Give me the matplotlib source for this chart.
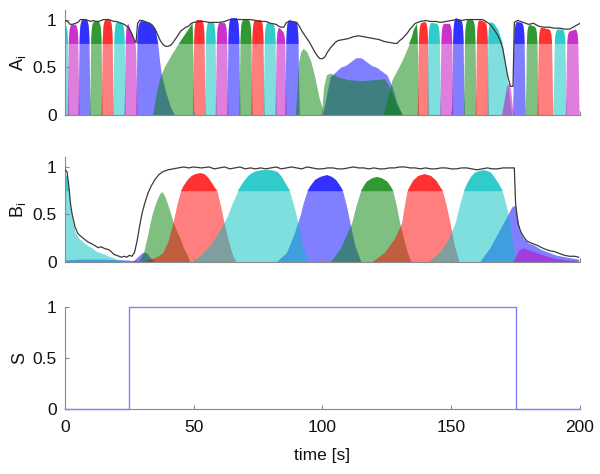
import numpy as np
import matplotlib
matplotlib.use("Agg")
import matplotlib.pyplot as plt

plt.rcParams['font.family'] = ['Liberation Sans', 'DejaVu Sans']

# ---------------- data ----------------
TIME_TICKS = [0, 50, 100, 150, 200]
Y_TICKS = [0, 0.5, 1]
Y_TICK_LABELS = ['0', '0.5', '1']
X_TICK_LABELS = ['0', '50', '100', '150', '200']

# Panel A: regular plateau states (start, end, top-left, top-right)
A_blue = [(5.5, 9.3, 1.0, 1.0), (63.3, 67.5, 1.02, 1.02), (85.8, 90.5, 1.0, 0.98),
          (150.6, 154.6, 1.02, 1.0), (174.3, 178.3, 0.98, 0.97)]
A_green = [(10, 14, 0.98, 0.98), (68, 72.2, 1.0, 1.0), (155.2, 159.2, 1.0, 1.0),
           (179.2, 183.3, 0.95, 0.93)]
A_red = [(14.5, 18.3, 1.0, 1.0), (50, 54, 1.0, 1.0), (72.6, 76.9, 1.0, 1.0),
         (137.3, 140.8, 0.97, 0.98), (159.8, 164, 1.0, 0.98), (183.8, 189, 0.92, 0.9)]
A_cyan = [(-1.5, 1.0, 0.95, 0.95), (19, 23, 0.98, 0.97), (54.6, 58.3, 0.98, 0.98),
          (77.4, 81.6, 0.97, 0.96), (141, 145.4, 0.97, 0.96), (190, 194.2, 0.9, 0.9)]
A_magenta = [(1.3, 5.0, 0.95, 0.95), (23.4, 27.5, 0.96, 0.8), (58.8, 62.8, 0.97, 0.97),
             (82, 85.4, 0.92, 0.88), (146, 150.2, 0.96, 0.96), (194.8, 199.2, 0.88, 0.9)]

# Panel A: irregular states
A_blue_slow_t = [27.5, 27.8, 28.0, 28.4, 29, 30, 33, 35, 36, 36.8, 37.5, 39, 41, 42.5]
A_blue_slow_v = [0, 0.5, 0.85, 0.94, 0.98, 0.99, 0.96, 0.9, 0.75, 0.55, 0.42, 0.25, 0.08, 0]
A_green_rise_t = [34, 35, 36, 37, 38.5, 41, 44, 46.5, 48.5, 49.3, 49.7, 50]
A_green_rise_v = [0, 0.16, 0.3, 0.4, 0.5, 0.62, 0.75, 0.85, 0.93, 0.97, 0.6, 0]
A_green_hump_t = [89.5, 90.2, 90.7, 91.5, 92.5, 94, 95.5, 97, 98.5, 99.8, 100.5]
A_green_hump_v = [0, 0.3, 0.55, 0.66, 0.7, 0.66, 0.56, 0.4, 0.2, 0.08, 0]
A_blue_dip_t = [100, 101.5, 103, 105, 107, 109, 111, 113, 115, 117, 119, 121, 123, 125, 127, 129, 131]
A_blue_dip_v = [0, 0.2, 0.4, 0.45, 0.5, 0.52, 0.56, 0.6, 0.6, 0.56, 0.52, 0.5, 0.46, 0.42, 0.3, 0.12, 0]
A_green_low_t = [99.5, 100.5, 101.5, 103, 106, 110, 115, 120, 124, 126, 128.5, 131]
A_green_low_v = [0, 0.3, 0.42, 0.44, 0.4, 0.37, 0.36, 0.37, 0.38, 0.3, 0.12, 0]
A_green_ramp_t = [123.5, 125, 127, 129, 130.7, 133.3, 134.5, 135.3, 136.5, 137.0, 137.3]
A_green_ramp_v = [0, 0.15, 0.37, 0.47, 0.56, 0.72, 0.82, 0.9, 0.96, 0.6, 0]
A_cyan_fall_t = [163.8, 164.1, 164.4, 165, 166.5, 168, 169, 170, 170.8, 171.5, 172.3, 173, 173.5]
A_cyan_fall_v = [0, 0.6, 0.9, 0.98, 0.96, 0.9, 0.82, 0.72, 0.55, 0.42, 0.25, 0.1, 0]
A_magenta_small_t = [169.5, 170.5, 171.5, 172.3, 173, 173.7, 174.2]
A_magenta_small_v = [0, 0.15, 0.3, 0.34, 0.28, 0.1, 0]

# Panel A: total (black line)
A_total_t = [0, 1, 2, 3, 4, 5, 6, 7, 8, 9, 10, 11, 12, 13, 14, 15, 16, 17, 18, 19, 20, 21, 22,
             23, 24, 25, 26, 27, 27.6, 28.2, 29, 30, 31, 32, 33, 34, 35, 36, 37, 38, 39, 40,
             41, 42, 43, 44, 45, 46, 47, 48, 49, 50, 52, 54, 56, 58, 60, 62, 64, 66, 68, 70,
             72, 74, 76, 78, 80, 82, 83, 84, 85, 86, 88, 90, 91, 92, 93, 94, 95, 96, 97, 98,
             99, 100, 101, 102, 103, 104, 105, 106, 108, 110, 112, 114, 116, 118, 120, 122,
             124, 126, 128, 129, 130, 131, 132, 133, 134, 135, 136, 137, 138, 140, 142, 144,
             146, 148, 150, 152, 154, 156, 158, 160, 162, 163, 164, 165, 166, 167, 168, 169,
             170, 171, 172, 173, 174, 174.5, 175, 176, 178, 180, 182, 184, 186, 188, 190, 192,
             194, 196, 198, 200]
A_total_v = [0.99, 0.98, 0.95, 0.95, 0.96, 0.97, 1.0, 1.0, 1.0, 0.99, 0.98, 0.99, 0.98, 0.98,
             0.99, 1.0, 1.0, 1.0, 0.99, 0.98, 0.98, 0.97, 0.96, 0.95, 0.93, 0.9, 0.85, 0.78,
             0.76, 0.96, 0.99, 0.99, 0.98, 0.97, 0.96, 0.94, 0.9, 0.84, 0.78, 0.74, 0.72, 0.72,
             0.73, 0.76, 0.8, 0.84, 0.88, 0.9, 0.92, 0.93, 0.96, 0.97, 0.98, 0.98, 0.97, 0.97,
             0.97, 0.98, 1.0, 1.0, 1.0, 1.0, 1.0, 0.99, 0.98, 0.98, 0.96, 0.95, 0.93, 0.92,
             0.92, 0.97, 0.98, 0.97, 0.93, 0.88, 0.84, 0.8, 0.76, 0.71, 0.66, 0.62, 0.59, 0.59,
             0.61, 0.66, 0.7, 0.73, 0.76, 0.78, 0.79, 0.8, 0.82, 0.83, 0.82, 0.81, 0.8, 0.79,
             0.77, 0.76, 0.75, 0.75, 0.78, 0.8, 0.83, 0.86, 0.9, 0.93, 0.96, 0.97, 0.98, 0.99,
             0.98, 0.98, 0.97, 0.98, 0.99, 1.0, 0.99, 1.0, 1.0, 1.0, 1.0, 0.99, 0.97, 0.95,
             0.92, 0.88, 0.84, 0.78, 0.7, 0.55, 0.4, 0.3, 0.3, 0.97, 0.98, 0.99, 0.97, 0.95,
             0.96, 0.93, 0.92, 0.92, 0.91, 0.91, 0.9, 0.9, 0.93, 0.96]

# Panel B states
B_blue_floor_t = [0, 5, 10, 15, 20, 25, 28, 30]
B_blue_floor_v = [0.02, 0.03, 0.03, 0.03, 0.025, 0.02, 0.01, 0]
B_blue_small_t = [26, 28, 30, 31.5, 33, 35]
B_blue_small_v = [0, 0.05, 0.1, 0.1, 0.05, 0]
B_blue_1_t = [82, 86, 89, 91.3, 92.5, 93.8, 95.3, 97, 99, 101.6, 103.5, 105, 106.6, 108, 109.4,
              110.7, 111.7, 112.6, 115]
B_blue_1_v = [0, 0.1, 0.3, 0.49, 0.62, 0.73, 0.81, 0.87, 0.9, 0.92, 0.9, 0.87, 0.81, 0.73, 0.58,
              0.41, 0.28, 0.17, 0]
B_blue_2_t = [161, 165, 168, 171, 173.5, 174.8, 175.5, 176.7, 178, 180, 182, 185, 188, 191, 195, 199.5]
B_blue_2_v = [0, 0.15, 0.3, 0.45, 0.58, 0.6, 0.5, 0.32, 0.25, 0.2, 0.18, 0.13, 0.1, 0.07, 0.05, 0.03]
B_green_1_t = [28.5, 30.5, 31.8, 32.8, 33.8, 34.8, 35.8, 36.8, 37.7, 38.6, 39.6, 40.8, 42, 43.3,
               44.7, 46, 47.4, 48.5]
B_green_1_v = [0, 0.1, 0.25, 0.38, 0.5, 0.59, 0.66, 0.72, 0.74, 0.7, 0.63, 0.53, 0.42, 0.33,
               0.25, 0.15, 0.08, 0]
B_green_2_t = [103, 107, 109, 111.3, 113, 114.6, 115.8, 117, 119, 121, 123, 125, 126.3, 127.5,
               128.8, 130, 131.5, 133, 134.5]
B_green_2_v = [0, 0.15, 0.27, 0.41, 0.59, 0.73, 0.8, 0.85, 0.885, 0.9, 0.885, 0.85, 0.8, 0.73,
               0.58, 0.41, 0.25, 0.1, 0]
B_red_1_t = [29, 33, 36, 38, 40, 42, 43.4, 44.7, 46, 47.5, 49, 50.5, 52.4, 54, 55.5, 57, 58.2,
             59.2, 60.5, 61.8, 63.5, 65, 66.5]
B_red_1_v = [0, 0.03, 0.06, 0.1, 0.22, 0.42, 0.6, 0.73, 0.81, 0.87, 0.91, 0.93, 0.94, 0.93,
             0.89, 0.83, 0.78, 0.73, 0.58, 0.41, 0.22, 0.08, 0]
B_red_2_t = [119, 124, 128, 130.7, 131.7, 132.7, 133.8, 135, 137, 139.5, 142, 144, 145.4, 146.8,
             148.2, 149.5, 151, 153]
B_red_2_v = [0, 0.1, 0.25, 0.41, 0.58, 0.73, 0.8, 0.86, 0.91, 0.93, 0.91, 0.86, 0.8, 0.73,
             0.58, 0.42, 0.2, 0]
B_cyan_0_t = [0, 0.8, 1.5, 2.2, 2.8, 3.9, 5, 6.6, 8, 9, 10.5, 11.7, 13.5, 15.5, 17, 18.3, 20, 22, 24, 26, 27]
B_cyan_0_v = [0.92, 0.9, 0.75, 0.55, 0.45, 0.32, 0.26, 0.22, 0.19, 0.17, 0.15, 0.12, 0.1, 0.08,
              0.06, 0.05, 0.03, 0.02, 0.01, 0.005, 0]
B_cyan_1_t = [49.5, 53, 57, 60, 63, 65, 66.8, 68, 69.5, 71, 72.5, 74, 76, 78.5, 81, 82.5, 84,
              85.5, 87.4, 89, 90.5, 91.5, 92.4, 94.5]
B_cyan_1_v = [0, 0.08, 0.2, 0.33, 0.48, 0.62, 0.73, 0.8, 0.86, 0.91, 0.94, 0.96, 0.97, 0.975,
              0.965, 0.95, 0.9, 0.83, 0.73, 0.58, 0.41, 0.27, 0.15, 0]
B_cyan_2_t = [141, 146, 149, 151.5, 153, 154.6, 156, 157.5, 159, 161, 163, 165, 166, 168, 170,
              171.5, 172.8, 174, 175]
B_cyan_2_v = [0, 0.12, 0.25, 0.41, 0.58, 0.73, 0.83, 0.9, 0.945, 0.965, 0.97, 0.95, 0.92, 0.84,
              0.73, 0.58, 0.41, 0.15, 0]
B_magenta_tail_t = [174, 176, 178, 181, 185, 190, 195, 199.5]
B_magenta_tail_v = [0, 0.12, 0.15, 0.12, 0.08, 0.04, 0.02, 0.01]

# Panel B: total (black line)
B_total_t = [0, 0.8, 1.5, 2.2, 2.8, 3.9, 5, 6.6, 8, 9, 10.5, 11.7, 13, 14, 15.5, 17, 18.3, 19, 20,
             21, 22, 23, 24, 25, 26, 27, 28, 29, 30, 31, 32.3, 33.5, 35, 36.5, 38, 40, 42, 44, 46,
             48, 50, 53, 56, 58, 60, 62, 64, 66, 68, 70, 72, 74, 76, 78, 80, 82, 84, 86, 88, 90,
             92, 94, 96, 98, 100, 102, 104, 106, 108, 110, 112, 114, 116, 118, 120, 122, 124,
             126, 128, 130, 132, 134, 136, 138, 140, 142, 144, 146, 148, 150, 152, 154, 156, 158,
             160, 162, 164, 166, 168, 170, 172, 174.5, 175, 175.5, 176, 177, 178, 179.4, 181,
             183, 186, 188, 190, 192, 194, 196, 198, 199.5]
B_total_v = [0.97, 0.95, 0.8, 0.6, 0.5, 0.37, 0.3, 0.26, 0.23, 0.21, 0.19, 0.17, 0.15, 0.16, 0.14,
             0.13, 0.1, 0.08, 0.07, 0.06, 0.05, 0.06, 0.05, 0.07, 0.06, 0.1, 0.22, 0.38, 0.52,
             0.62, 0.73, 0.8, 0.87, 0.92, 0.95, 0.97, 0.98, 0.99, 1.0, 0.99, 1.0, 0.99, 1.0,
             0.98, 0.99, 1.0, 0.98, 0.99, 1.0, 0.98, 0.99, 0.98, 0.99, 0.98, 0.99, 1.0, 0.98,
             0.99, 1.0, 0.99, 0.98, 1.0, 0.99, 0.98, 0.98, 0.99, 0.99, 0.98, 0.98, 0.99, 1.0,
             0.99, 0.99, 0.98, 0.99, 0.98, 0.98, 0.99, 0.99, 1.0, 1.0, 0.99, 0.99, 0.98, 0.99,
             0.98, 0.98, 0.99, 0.99, 0.98, 0.98, 0.99, 0.99, 0.98, 0.97, 0.98, 0.99, 0.98, 0.98,
             0.99, 0.99, 0.99, 0.62, 0.5, 0.4, 0.32, 0.27, 0.22, 0.2, 0.18, 0.14, 0.12, 0.11,
             0.09, 0.07, 0.06, 0.06, 0.05]

# Panel S: stimulus
S_t = [0, 25, 175, 200]
S_v = [0, 1, 0, 0]

# ---------------- drawing ----------------
BLUE = (0, 0, 1)
GREEN = (0, 0.5, 0)
RED = (1, 0, 0)
CYAN = (0, 0.75, 0.75)
MAGENTA = (0.75, 0, 0.75)
SPINE = '#8a8a8a'
BAND = 0.75


def plateau(a, b, hl, hr):
    xs = [a - 0.5, a - 0.3, a - 0.12, a, a + 0.12, a + 0.3, a + 0.6, a + 1.0,
          b - 1.0, b - 0.6, b - 0.3, b - 0.12, b, b + 0.12, b + 0.3, b + 0.5]
    fl = [0, 0.25, 0.6, 0.8, 0.88, 0.94, 0.98, 1.0]
    ys = [f * hl for f in fl] + [f * hr for f in fl[::-1]]
    return xs, ys


def state(ax, t, v, color):
    t = np.asarray(t, float)
    v = np.asarray(v, float)
    ax.fill_between(t, 0, v, color=color, alpha=0.5, lw=0, zorder=1)
    top = np.maximum(v, BAND)
    ax.fill_between(t, BAND, top, where=v >= BAND, interpolate=True,
                    color=color, alpha=0.6, lw=0, zorder=1)


fig = plt.figure(figsize=(6.0, 4.74), dpi=100)
axA = fig.add_axes([0.1083, 0.7574, 0.8583, 0.2215])
axB = fig.add_axes([0.1083, 0.4473, 0.8583, 0.2205])
axS = fig.add_axes([0.1083, 0.1371, 0.8583, 0.2152])

# Panel A (draw order: blue, green, red, cyan, magenta)
for a, b, hl, hr in A_blue:
    state(axA, *plateau(a, b, hl, hr), BLUE)
state(axA, A_blue_slow_t, A_blue_slow_v, BLUE)
state(axA, A_blue_dip_t, A_blue_dip_v, BLUE)
for a, b, hl, hr in A_green:
    state(axA, *plateau(a, b, hl, hr), GREEN)
state(axA, A_green_rise_t, A_green_rise_v, GREEN)
state(axA, A_green_hump_t, A_green_hump_v, GREEN)
state(axA, A_green_low_t, A_green_low_v, GREEN)
state(axA, A_green_ramp_t, A_green_ramp_v, GREEN)
for a, b, hl, hr in A_red:
    state(axA, *plateau(a, b, hl, hr), RED)
for a, b, hl, hr in A_cyan:
    state(axA, *plateau(a, b, hl, hr), CYAN)
state(axA, A_cyan_fall_t, A_cyan_fall_v, CYAN)
for a, b, hl, hr in A_magenta:
    state(axA, *plateau(a, b, hl, hr), MAGENTA)
state(axA, A_magenta_small_t, A_magenta_small_v, MAGENTA)
axA.plot(A_total_t, A_total_v, color='#3a3a3a', lw=0.9, zorder=3)

# Panel B
state(axB, B_blue_floor_t, B_blue_floor_v, BLUE)
state(axB, B_blue_small_t, B_blue_small_v, BLUE)
state(axB, B_blue_1_t, B_blue_1_v, BLUE)
state(axB, B_blue_2_t, B_blue_2_v, BLUE)
state(axB, B_green_1_t, B_green_1_v, GREEN)
state(axB, B_green_2_t, B_green_2_v, GREEN)
state(axB, B_red_1_t, B_red_1_v, RED)
state(axB, B_red_2_t, B_red_2_v, RED)
state(axB, B_cyan_0_t, B_cyan_0_v, CYAN)
state(axB, B_cyan_1_t, B_cyan_1_v, CYAN)
state(axB, B_cyan_2_t, B_cyan_2_v, CYAN)
state(axB, B_magenta_tail_t, B_magenta_tail_v, MAGENTA)
axB.plot(B_total_t, B_total_v, color='#3a3a3a', lw=0.9, zorder=3)

# Panel S
axS.step(S_t, S_v, where='post', color=(0.5, 0.5, 1.0), lw=1.0, clip_on=False, zorder=3)

for ax, ylab, top in ((axA, r'A$_\mathregular{i}$', 1.1), (axB, r'B$_\mathregular{i}$', 1.1),
                      (axS, 'S', 1.0)):
    ax.set_xlim(0, 200)
    ax.set_ylim(0, top)
    for s in ('top', 'right'):
        ax.spines[s].set_visible(False)
    for s in ('left', 'bottom'):
        ax.spines[s].set_color(SPINE)
        ax.spines[s].set_linewidth(0.8)
    ax.set_yticks(Y_TICKS)
    ax.set_yticklabels(Y_TICK_LABELS)
    ax.set_xticks(TIME_TICKS)
    ax.tick_params(direction='in', length=3, width=0.8, color=SPINE,
                   labelsize=12.5, labelcolor='#111111', pad=6)
    ax.tick_params(axis='x', pad=8)
    ax.set_ylabel(ylab, fontsize=13, labelpad=3, color='#111111')

axA.set_xticklabels([])
axB.set_xticklabels([])
axS.set_xticklabels(X_TICK_LABELS)
axS.set_xlabel('time [s]', fontsize=12.5, color='#111111', labelpad=9)

fig.savefig('out.png', dpi=100)
